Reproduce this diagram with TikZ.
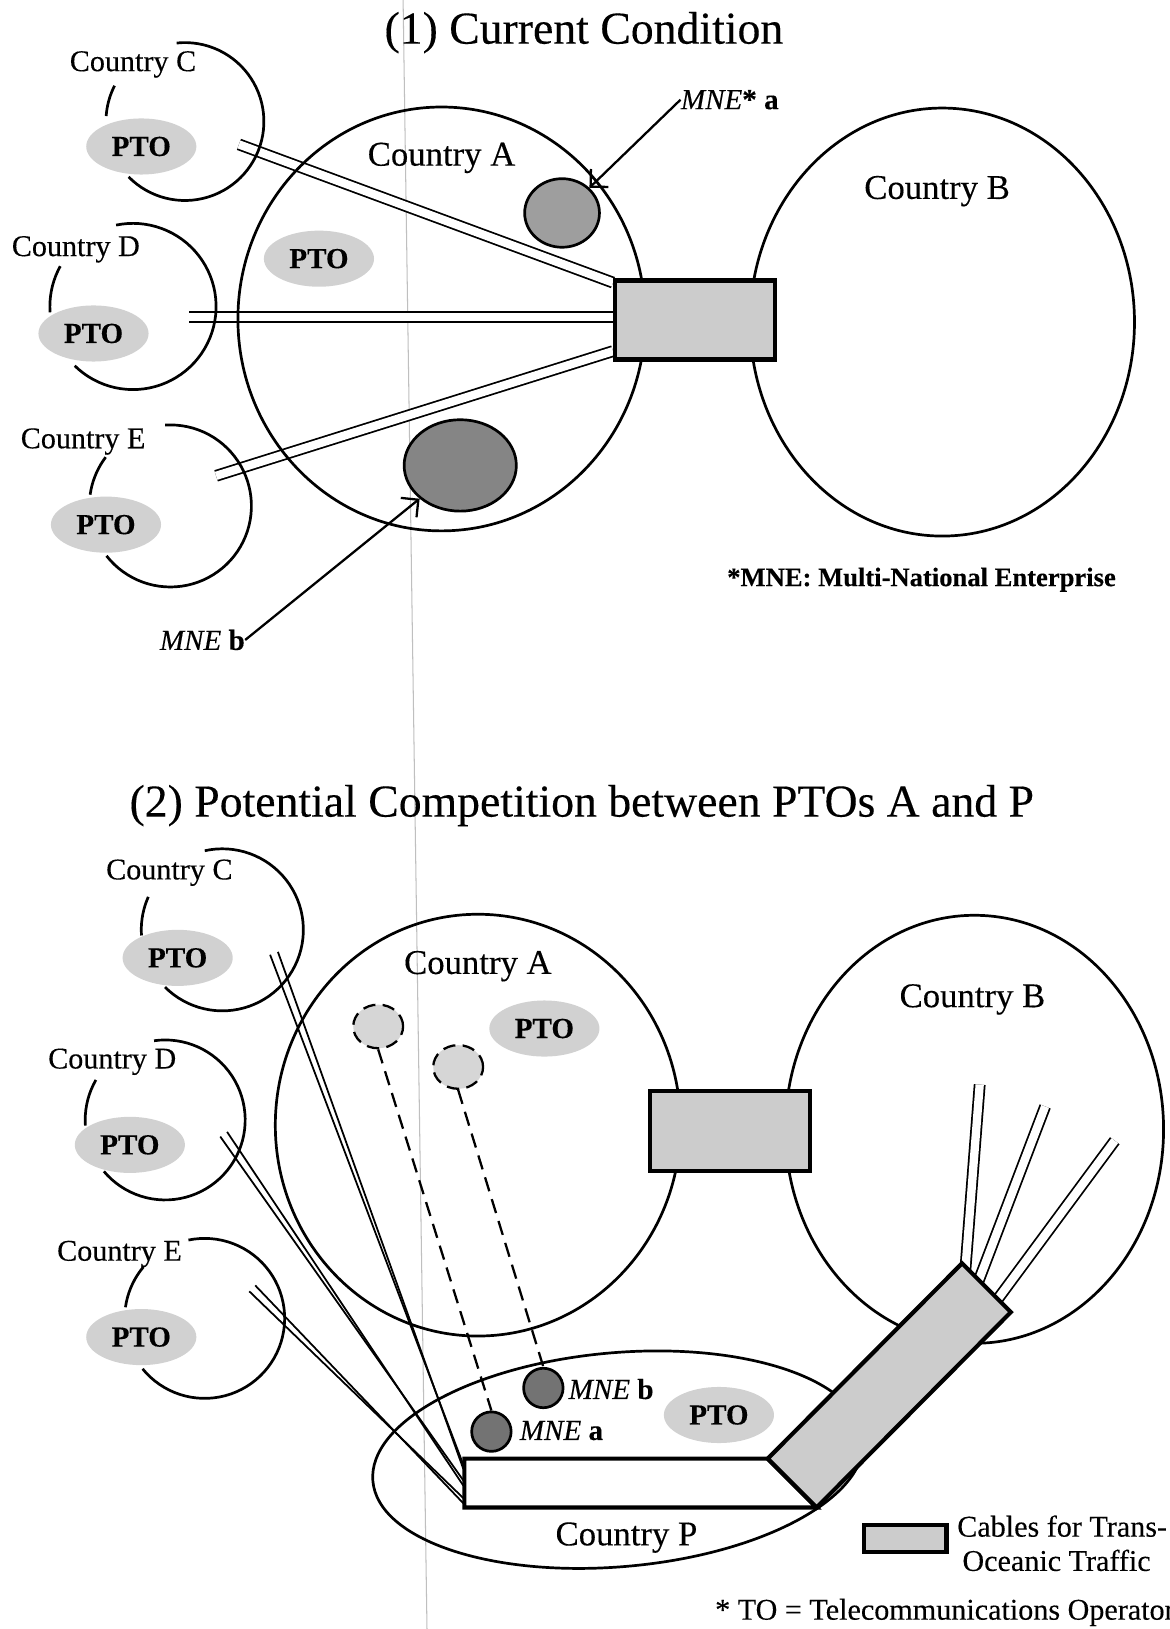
\documentclass[tikz,border=0pt]{standalone}
\usepackage{fontspec}
\setmainfont{Liberation Serif}[FakeBold=0.25]
\usetikzlibrary{shapes.geometric, arrows.meta, calc}

\begin{document}
\begin{tikzpicture}[x=0.5pt, y=-0.5pt,
  outline/.style={line width=1.3pt},
  cable/.style={line width=0.85pt, double=white, double distance=4pt},
  wire/.style={line width=0.85pt},
  pto/.style={ellipse, fill=black!18, inner sep=0pt, minimum width=53pt, minimum height=27pt, font=\fontsize{14}{16}\selectfont\bfseries},
  clabel/.style={font=\fontsize{14.5}{17}\selectfont, inner sep=0pt},
  blabel/.style={font=\fontsize{16.7}{20}\selectfont, inner sep=0pt},
  ttl/.style={font=\fontsize{22}{26}\selectfont, inner sep=0pt, anchor=base},
  mnelbl/.style={font=\fontsize{14}{16}\selectfont, inner sep=0pt},
  note/.style={font=\fontsize{14.5}{17}\selectfont, inner sep=0pt},
  trunk/.style={draw, line width=2pt, fill=black!20},
  mne/.style={ellipse, draw, line width=1.3pt, fill=black!45, inner sep=0pt},
  ghost/.style={ellipse, draw, line width=1.1pt, dash pattern=on 6pt off 3.5pt, fill=black!16, inner sep=0pt, minimum width=24pt, minimum height=21pt},
  dashline/.style={line width=1.1pt, dash pattern=on 7pt off 4pt},
  pointer/.style={line width=1.1pt, -{Straight Barb[angle=90:8.5pt]}},
]
\useasboundingbox (0,0) rectangle (1126,1568);
\fill[white] (0,0) rectangle (1126,1568);
% faint scan line
\draw[black!25, line width=0.5pt] (388,0) -- (411,1568);

%% ================= (1) Current Condition =================
\node[ttl] (title1) at (562,42) {(1) Current Condition};

% cables
\coordinate (cC) at (230,139); \coordinate (xC) at (590,272);
\coordinate (cD) at (182,305); \coordinate (xD) at (590,305);
\coordinate (cE) at (208,458); \coordinate (xE) at (590,338);
\draw[cable] (cC) -- (xC);
\draw[cable] (cD) -- (xD);
\draw[cable] (cE) -- (xE);

% big countries
\draw[outline] (425,307) ellipse [x radius=196, y radius=204];
\draw[outline] (907,310) ellipse [x radius=185, y radius=206];
\node[blabel] (lblA) at (425,152) {Country A};
\node[blabel] (lblB) at (902,184) {Country B};

% small countries (broken circles)
\draw[outline] plot[domain=-96:135.5, samples=60, variable=\t] ({178+76*cos(\t)},{117+76*sin(\t)});
\draw[outline] plot[domain=184:207, samples=10, variable=\t] ({178+76*cos(\t)},{117+76*sin(\t)});
\draw[outline] plot[domain=-101.7:134.5, samples=60, variable=\t] ({128+80*cos(\t)},{295+80*sin(\t)});
\draw[outline] plot[domain=176:209, samples=10, variable=\t] ({128+80*cos(\t)},{295+80*sin(\t)});
\draw[outline] plot[domain=-93.7:142, samples=60, variable=\t] ({164+78*cos(\t)},{487+78*sin(\t)});
\draw[outline] plot[domain=188:217, samples=10, variable=\t] ({164+78*cos(\t)},{487+78*sin(\t)});
\node[clabel] (lblC) at (128,62) {Country C};
\node[clabel] (lblD) at (73,240) {Country D};
\node[clabel] (lblE) at (80,425) {Country E};

% PTOs
\node[pto] (ptoC) at (136,141) {PTO};
\node[pto] (ptoD) at (90,321) {PTO};
\node[pto] (ptoE) at (102,505) {PTO};
\node[pto] (ptoA) at (307,249) {PTO};

% trunk box
\node[trunk, minimum width=77pt, minimum height=38pt] (trunk1) at (669,308) {};

% MNEs
\node[mne, fill=black!38, minimum width=36pt, minimum height=33pt] (mneA) at (541,205) {};
\node[mne, fill=black!48, minimum width=54pt, minimum height=44pt] (mneB) at (443,448) {};
\node[mnelbl, anchor=west] (lblMneA) at (655,96) {\textit{MNE}\textbf{* a}};
\node[mnelbl, anchor=east] (lblMneB) at (236,616) {\textit{MNE}\textbf{ b}};
\draw[pointer] (lblMneA.west) -- (mneA.north east);
\draw[pointer] (lblMneB.east) -- (mneB.south west);

\node[font=\fontsize{12.8}{15}\selectfont\bfseries, inner sep=0pt] (mneNote) at (887,558) {*MNE: Multi-National Enterprise};

%% ================= (2) Potential Competition =================
\node[ttl] (title2) at (560,786) {(2) Potential Competition between PTOs A and P};

% cables from B to the angled trunk
\coordinate (b1s) at (943,1044); \coordinate (b1e) at (929,1225);
\coordinate (b2s) at (1006,1065); \coordinate (b2e) at (940,1238);
\coordinate (b3s) at (1073,1098); \coordinate (b3e) at (957,1255);
\draw[cable] (b1s) -- (b1e);
\draw[cable] (b2s) -- (b2e);
\draw[cable] (b3s) -- (b3e);

% converging cables from C, D, E to P
\coordinate (pc1) at (260,919); \coordinate (pc2) at (267.5,916.2);
\coordinate (qc1) at (446,1410); \coordinate (qc2) at (446,1414);
\coordinate (pd1) at (212,1094); \coordinate (pd2) at (218.6,1089.5);
\coordinate (qd1) at (446,1425); \coordinate (qd2) at (446,1430);
\coordinate (pe1) at (240,1243); \coordinate (pe2) at (245.7,1237.3);
\coordinate (qe1) at (446,1442); \coordinate (qe2) at (446,1447);
\draw[wire] (pc1) -- (qc1); \draw[wire] (pc2) -- (qc2);
\draw[wire] (pd1) -- (qd1); \draw[wire] (pd2) -- (qd2);
\draw[wire] (pe1) -- (qe1); \draw[wire] (pe2) -- (qe2);

% big countries
\draw[outline] (460,1083) ellipse [x radius=195, y radius=203];
\draw[outline] (938,1087) ellipse [x radius=182, y radius=206];
\draw[outline, rotate around={5:(595,1405)}] (595,1405) ellipse [x radius=237, y radius=103];
\node[blabel] (lblA2) at (460,930) {Country A};
\node[blabel] (lblB2) at (936,962) {Country B};
\node[blabel] (lblP2) at (603,1480) {Country P};

% small countries
\draw[outline] plot[domain=-102.5:135, samples=60, variable=\t] ({214+78*cos(\t)},{895+78*sin(\t)});
\draw[outline] plot[domain=176:204, samples=10, variable=\t] ({214+78*cos(\t)},{895+78*sin(\t)});
\draw[outline] plot[domain=-98:140, samples=60, variable=\t] ({159+77*cos(\t)},{1078+77*sin(\t)});
\draw[outline] plot[domain=176:210, samples=10, variable=\t] ({159+77*cos(\t)},{1078+77*sin(\t)});
\draw[outline] plot[domain=-101.7:140.9, samples=60, variable=\t] ({197+77*cos(\t)},{1269+77*sin(\t)});
\draw[outline] plot[domain=188:220, samples=10, variable=\t] ({197+77*cos(\t)},{1269+77*sin(\t)});
\node[clabel] (lblC2) at (163,840) {Country C};
\node[clabel] (lblD2) at (108,1022) {Country D};
\node[clabel] (lblE2) at (115,1207) {Country E};

\node[pto] (ptoC2) at (171,922) {PTO};
\node[pto] (ptoD2) at (125,1102) {PTO};
\node[pto] (ptoE2) at (136,1287) {PTO};
\node[pto] (ptoA2) at (524,990) {PTO};
\node[pto] (ptoP) at (692,1362) {PTO};

% A-B trunk
\node[trunk, minimum width=77pt, minimum height=38.5pt] (trunk2) at (703,1088.5) {};

% former MNE sites and moved MNEs
\node[ghost] (g1) at (364,988) {};
\node[ghost] (g2) at (441,1027) {};
\node[mne, fill=black!55, minimum width=19pt, minimum height=19pt] (mneAp) at (473,1378) {};
\node[mne, fill=black!55, minimum width=19pt, minimum height=19pt] (mneBp) at (523,1336) {};
\draw[dashline] (g1.south) -- (mneAp.north);
\draw[dashline] (g2.south) -- (mneBp.north);
\node[mnelbl, anchor=west] (lblAp) at (500,1377) {\textit{MNE}\textbf{ a}};
\node[mnelbl, anchor=west] (lblBp) at (547,1337) {\textit{MNE}\textbf{ b}};

% P trunks
\draw[line width=2pt, fill=white, line join=miter] (447,1404) -- (739,1404) -- (786,1451) -- (447,1451) -- cycle;
\draw[line width=2pt, fill=black!20, line join=miter] (739,1404) -- (926,1216) -- (973,1263) -- (786,1451) -- cycle;

% legend
\node[trunk, minimum width=39.5pt, minimum height=13pt] (legendBox) at (871.5,1481) {};
\node[note, anchor=west] (legend1) at (921,1469) {Cables for Trans-};
\node[note, anchor=west] (legend2) at (926,1502) {Oceanic Traffic};
\node[note, anchor=base west] (toNote) at (688,1559) {* TO = Telecommunications Operator};
\end{tikzpicture}
\end{document}
